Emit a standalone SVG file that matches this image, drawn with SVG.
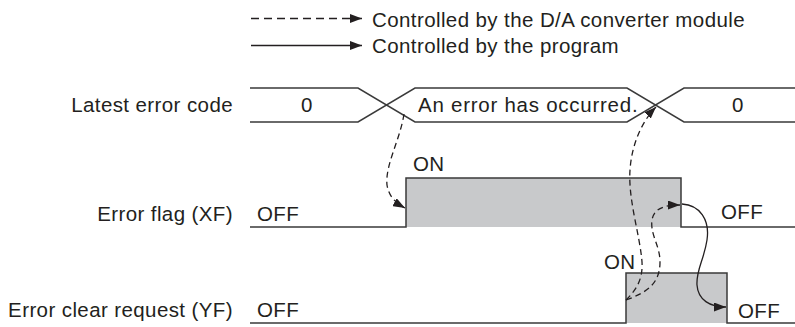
<svg xmlns="http://www.w3.org/2000/svg" width="795" height="327" viewBox="0 0 795 327">
<style>
text{font-family:"Liberation Sans",Arial,sans-serif;font-size:20.5px;letter-spacing:0.4px;fill:#231f20}
.end{text-anchor:end}
.mid{text-anchor:middle}
.sig{fill:none;stroke:#3a3a3a;stroke-width:1.5}
.fill{fill:#c8c9cb;stroke:none}
.conn{fill:none;stroke:#231f20;stroke-width:1.3}
.dash{stroke-dasharray:6,4}
.ldash{stroke-dasharray:8,5}
</style>
<defs>
<marker id="ah" viewBox="0 0 12 9" refX="12" refY="4.5" markerWidth="12" markerHeight="9" markerUnits="userSpaceOnUse" orient="auto">
<path d="M0,0 L12,4.5 L0,9 Z" fill="#231f20"/>
</marker>
</defs>
<g id="legend">
<line class="conn ldash" x1="251" y1="18.5" x2="362" y2="18.5" marker-end="url(#ah)"/>
<text x="372" y="26.5">Controlled by the D/A converter module</text>
<line class="conn" x1="251" y1="45.5" x2="362" y2="45.5" marker-end="url(#ah)"/>
<text x="372" y="52.5">Controlled by the program</text>
</g>
<g id="latest-error-code">
<text class="end" x="233" y="111.5">Latest error code</text>
<path class="sig" d="M250,88 H358 L415,122 H627 L684,88 H795"/>
<path class="sig" d="M250,122 H358 L415,88 H627 L684,122 H795"/>
<text class="mid" x="307" y="111.5">0</text>
<text x="418" y="111.5" textLength="220" lengthAdjust="spacing">An error has occurred.</text>
<text class="mid" x="738" y="111.5">0</text>
</g>
<g id="error-flag">
<text class="end" x="233" y="221">Error flag (XF)</text>
<rect class="fill" x="406" y="178" width="275" height="49"/>
<path class="sig" d="M250,227 H406 V178 H681 V227 H795"/>
<text x="257" y="221">OFF</text>
<text x="413" y="171">ON</text>
<text x="721" y="219">OFF</text>
</g>
<g id="error-clear-request">
<text class="end" x="233" y="317">Error clear request (YF)</text>
<rect class="fill" x="626" y="273" width="101" height="50"/>
<path class="sig" d="M250,323 H626 V273 H727 V323 H795"/>
<text x="257" y="317">OFF</text>
<text x="604" y="269">ON</text>
<text x="738" y="317.5">OFF</text>
</g>
<g id="connectors">
<path class="conn dash" d="M404,114 C400,140 385,165 387,185 C389,197 396,203 405,208" marker-end="url(#ah)"/>
<path class="conn dash" d="M626,300 C636,290 643,280 642,262 C640,235 628,200 630,170 C632,140 645,118 656,107" marker-end="url(#ah)"/>
<path class="conn dash" d="M626,300 C645,293 660,285 660,262 C660,245 650,235 652,220 C654,208 665,205 680,205" marker-end="url(#ah)"/>
<path class="conn" d="M682,204 C700,205 710,220 707,240 C704,260 696,270 697,285 C698,300 710,307 726,307" marker-end="url(#ah)"/>
</g>
</svg>
